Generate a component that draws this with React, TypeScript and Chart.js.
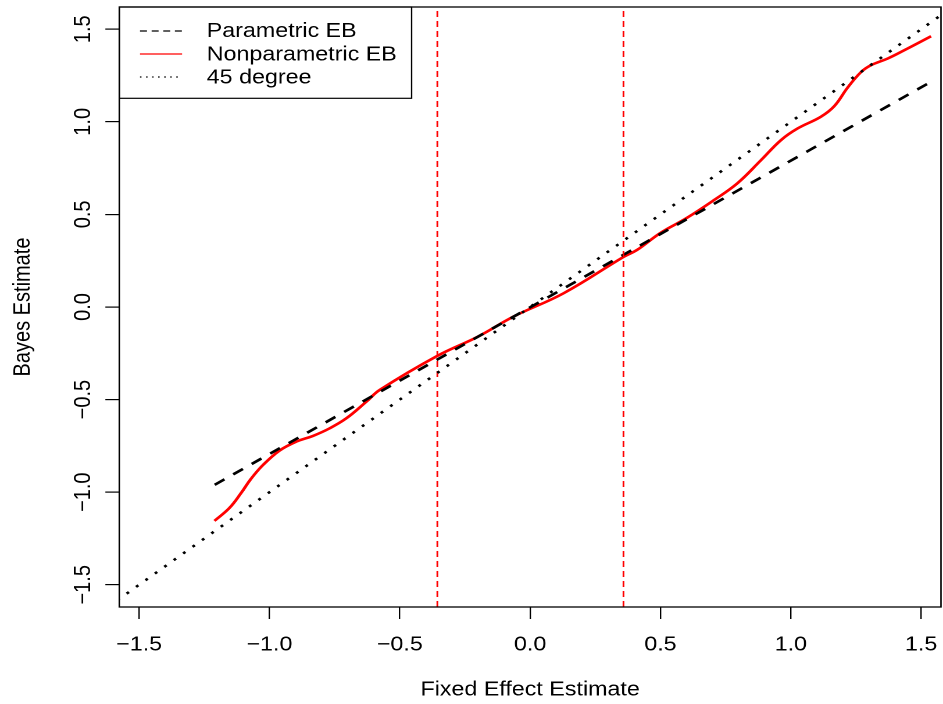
import React, { useEffect, useRef } from 'react';
import { Chart, registerables } from 'chart.js';

Chart.register(...registerables);

const FONT = "'Liberation Sans', Arial, Helvetica, sans-serif";

// ---- data ----
const xTickValues = [-1.5, -1.0, -0.5, 0.0, 0.5, 1.0, 1.5];
const xTickLabels = ['\u22121.5', '\u22121.0', '\u22120.5', '0.0', '0.5', '1.0', '1.5'];
const yTickValues = [-1.5, -1.0, -0.5, 0.0, 0.5, 1.0, 1.5];
const yTickLabels = ['\u22121.5', '\u22121.0', '\u22120.5', '0.0', '0.5', '1.0', '1.5'];

const xRange = [-1.576, 1.576];
const yRange = [-1.62, 1.62];

const parametricX = [-1.21, 1.53];
const parametricY = [-0.96, 1.21];

const nonparamX = [-1.211, -1.154, -1.109, -1.072, -1.026, -0.962, -0.897, -0.833, -0.769, -0.705, -0.628, -0.577, -0.356, -0.2, -0.064, 0.128, 0.359, 0.41, 0.5, 0.6, 0.705, 0.795, 0.885, 0.962, 1.026, 1.115, 1.167, 1.218, 1.269, 1.308, 1.372, 1.436, 1.538];
const nonparamY = [-1.155, -1.086, -1.005, -0.93, -0.855, -0.776, -0.727, -0.696, -0.655, -0.601, -0.511, -0.448, -0.264, -0.16, -0.052, 0.074, 0.271, 0.308, 0.4, 0.48, 0.577, 0.668, 0.792, 0.901, 0.964, 1.027, 1.085, 1.185, 1.268, 1.306, 1.342, 1.387, 1.462];

const diagonalX = [-1.62, 1.62];
const diagonalY = [-1.62, 1.62];

const cutoffX = [-0.356, 0.358];

const legendLabels = ['Parametric EB', 'Nonparametric EB', '45 degree'];
const xTitle = 'Fixed Effect Estimate';
const yTitle = 'Bayes Estimate';

// ---- layout (inner drawing width, then stretched horizontally) ----
const INNER_W = 811;
const INNER_H = 704;
const STRETCH = 943 / INNER_W;

const toPts = (xs: number[], ys: number[]) => xs.map((x, i) => ({ x, y: ys[i] }));

const framePlugin = {
  id: 'frameAndLegend',
  afterDraw(chart: any) {
    const ctx = chart.ctx as CanvasRenderingContext2D;
    const a = chart.chartArea;
    ctx.save();
    ctx.strokeStyle = '#000';
    ctx.setLineDash([]);
    ctx.lineWidth = 1.3;
    ctx.strokeRect(a.left, a.top, a.right - a.left, a.bottom - a.top);

    // legend box
    const lx = a.left;
    const ly = a.top;
    const lw = 251.4;
    const lh = 91.3;
    ctx.lineWidth = 1.2;
    ctx.strokeRect(lx, ly, lw, lh);

    const samples = [
      { color: '#000', dash: [6, 4], width: 1.2 },
      { color: '#ff0000', dash: [], width: 1.3 },
      { color: '#000', dash: [1.3, 3.9], width: 1.3 },
    ];
    const rowY = [24, 47, 70];
    const baseY = [30, 53.3, 76.6];
    samples.forEach((s, i) => {
      ctx.beginPath();
      ctx.strokeStyle = s.color;
      ctx.lineWidth = s.width;
      ctx.setLineDash(s.dash);
      ctx.moveTo(lx + 17.8, ly + rowY[i]);
      ctx.lineTo(lx + 54, ly + rowY[i]);
      ctx.stroke();
    });
    ctx.setLineDash([]);
    ctx.fillStyle = '#000';
    ctx.font = `20px ${FONT}`;
    ctx.textAlign = 'left';
    ctx.textBaseline = 'alphabetic';
    legendLabels.forEach((t, i) => {
      ctx.fillText(t, lx + 75.2, ly + baseY[i]);
    });
    ctx.restore();
  },
};

export default function App() {
  const ref = useRef<HTMLCanvasElement>(null);

  useEffect(() => {
    document.body.style.margin = '0';
    const canvas = ref.current!;
    const tickFont = { family: FONT, size: 20 };
    const chart = new Chart(canvas, {
      type: 'scatter',
      data: {
        datasets: [
          {
            label: legendLabels[2],
            data: toPts(diagonalX, diagonalY),
            showLine: true,
            borderColor: '#000',
            borderWidth: 2.5,
            borderDash: [2.5, 8],
            borderCapStyle: 'butt',
            pointRadius: 0,
            clip: 0,
          },
          ...cutoffX.map((c) => ({
            label: 'cutoff',
            data: [{ x: c, y: yRange[0] }, { x: c, y: yRange[1] }],
            showLine: true,
            borderColor: '#ff0000',
            borderWidth: 1.5,
            borderDash: [6, 4],
            pointRadius: 0,
            clip: 0,
          })),
          {
            label: legendLabels[0],
            data: toPts(parametricX, parametricY),
            showLine: true,
            borderColor: '#000',
            borderWidth: 2.6,
            borderDash: [10, 9],
            borderCapStyle: 'butt',
            pointRadius: 0,
          },
          {
            label: legendLabels[1],
            data: toPts(nonparamX, nonparamY),
            showLine: true,
            borderColor: '#ff0000',
            borderWidth: 2.6,
            tension: 0.4,
            pointRadius: 0,
          },
        ] as any,
      },
      options: {
        animation: false,
        responsive: true,
        maintainAspectRatio: false,
        devicePixelRatio: 2,
        layout: { padding: { top: 7, right: 1.75, left: 0, bottom: 0 } },
        plugins: {
          legend: { display: false },
          tooltip: { enabled: false },
        },
        scales: {
          x: {
            type: 'linear',
            min: xRange[0],
            max: xRange[1],
            afterBuildTicks: (s: any) => {
              s.ticks = xTickValues.map((v) => ({ value: v }));
            },
            afterFit: (s: any) => {
              s.height = 97;
              s.paddingLeft = 0;
              s.paddingRight = 0;
            },
            ticks: {
              callback: (_v: any, i: number) => xTickLabels[i],
              font: tickFont,
              color: '#000',
              padding: 14,
              maxRotation: 0,
              autoSkip: false,
            },
            grid: {
              drawOnChartArea: false,
              drawTicks: true,
              tickLength: 12,
              color: '#000',
              lineWidth: 1.2,
            },
            border: { display: false },
            title: {
              display: true,
              text: xTitle,
              font: tickFont,
              color: '#000',
              padding: { top: 0, bottom: 2 },
            },
          },
          y: {
            type: 'linear',
            min: yRange[0],
            max: yRange[1],
            afterBuildTicks: (s: any) => {
              s.ticks = yTickValues.map((v) => ({ value: v }));
            },
            afterFit: (s: any) => {
              s.width = 102.6;
              s.paddingTop = 0;
              s.paddingBottom = 0;
            },
            ticks: {
              callback: (_v: any, i: number) => yTickLabels[i],
              font: tickFont,
              color: '#000',
              padding: -1,
              minRotation: 90,
              maxRotation: 90,
              crossAlign: 'center',
              autoSkip: false,
            },
            grid: {
              drawOnChartArea: false,
              drawTicks: true,
              tickLength: 12,
              color: '#000',
              lineWidth: 1.2,
            },
            border: { display: false },
            title: {
              display: true,
              text: yTitle,
              font: tickFont,
              color: '#000',
              padding: { top: 8, bottom: 0 },
            },
          },
        },
      } as any,
      plugins: [framePlugin],
    });
    return () => chart.destroy();
  }, []);

  return (
    <div
      style={{
        width: INNER_W,
        height: INNER_H,
        transform: `scaleX(${STRETCH})`,
        transformOrigin: '0 0',
        position: 'relative',
      }}
    >
      <canvas ref={ref} style={{ display: 'block' }} />
    </div>
  );
}
